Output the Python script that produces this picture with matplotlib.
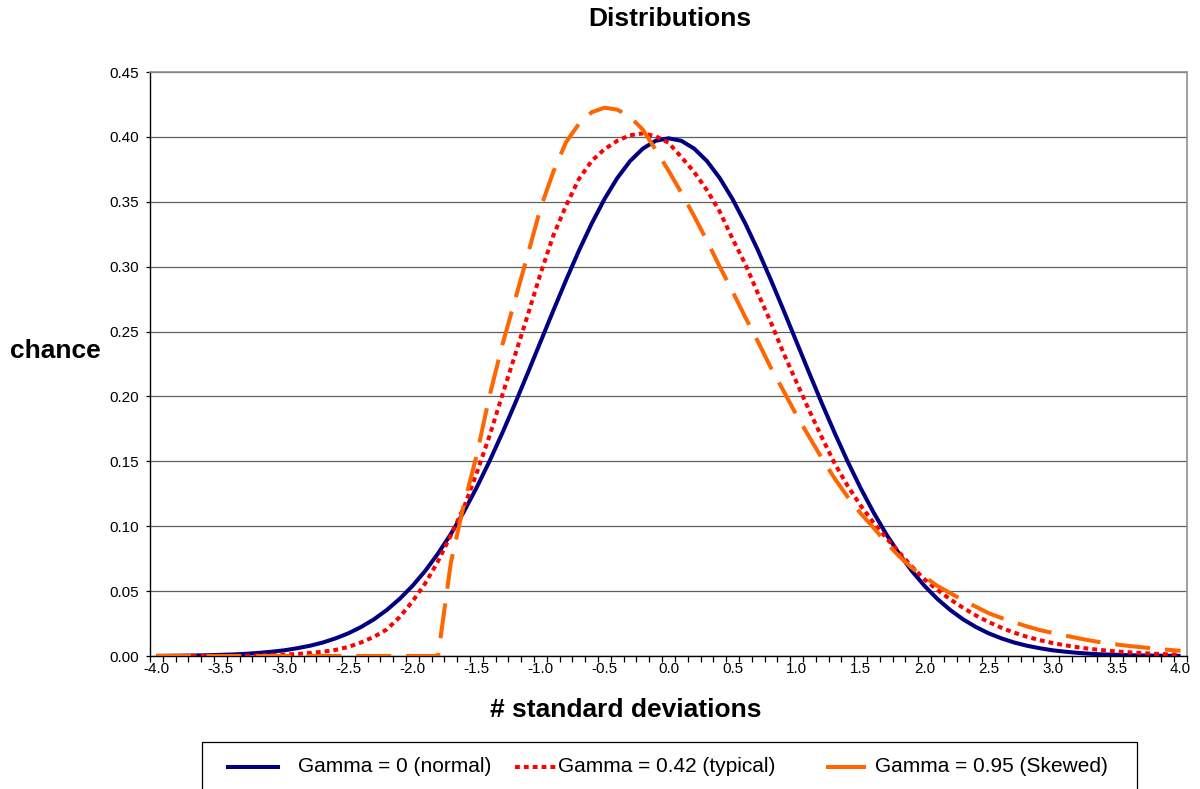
import matplotlib
matplotlib.use("Agg")
import matplotlib.pyplot as plt
from matplotlib.ticker import FixedLocator
from matplotlib.lines import Line2D
from matplotlib.patches import Rectangle

plt.rcParams['font.family'] = ['Liberation Sans', 'DejaVu Sans']

x_values = [round(-4.0 + 0.1 * i, 1) for i in range(81)]

normal = [0.0001, 0.0002, 0.0003, 0.0004, 0.0006, 0.0009, 0.0012, 0.0017, 0.0024, 0.0033,
          0.0044, 0.0060, 0.0079, 0.0104, 0.0136, 0.0175, 0.0224, 0.0283, 0.0355, 0.0440,
          0.0540, 0.0656, 0.0790, 0.0940, 0.1109, 0.1295, 0.1497, 0.1714, 0.1942, 0.2179,
          0.2420, 0.2661, 0.2897, 0.3123, 0.3332, 0.3521, 0.3683, 0.3814, 0.3910, 0.3970,
          0.3989,
          0.3970, 0.3910, 0.3814, 0.3683, 0.3521, 0.3332, 0.3123, 0.2897, 0.2661, 0.2420,
          0.2179, 0.1942, 0.1714, 0.1497, 0.1295, 0.1109, 0.0940, 0.0790, 0.0656, 0.0540,
          0.0440, 0.0355, 0.0283, 0.0224, 0.0175, 0.0136, 0.0104, 0.0079, 0.0060, 0.0044,
          0.0033, 0.0024, 0.0017, 0.0012, 0.0009, 0.0006, 0.0004, 0.0003, 0.0002, 0.0001]

typical = [0.0000, 0.0000, 0.0000, 0.0000, 0.0000, 0.0001, 0.0001, 0.0002, 0.0004, 0.0007,
           0.0011, 0.0016, 0.0023, 0.0033, 0.0047, 0.0070, 0.0105, 0.0148, 0.0205, 0.0300,
           0.0420, 0.0560, 0.0730, 0.0930, 0.1140, 0.1405, 0.1690, 0.2005, 0.2315, 0.2625,
           0.2945, 0.3240, 0.3470, 0.3675, 0.3815, 0.3905, 0.3970, 0.4013, 0.4027, 0.4005,
           0.3955,
           0.3845, 0.3730, 0.3590, 0.3425, 0.3215, 0.3020, 0.2790, 0.2570, 0.2330, 0.2110,
           0.1890, 0.1680, 0.1480, 0.1310, 0.1160, 0.1030, 0.0910, 0.0800, 0.0690, 0.0590,
           0.0510, 0.0437, 0.0372, 0.0313, 0.0262, 0.0218, 0.0180, 0.0148, 0.0122, 0.0100,
           0.0082, 0.0067, 0.0054, 0.0044, 0.0035, 0.0028, 0.0022, 0.0017, 0.0013, 0.0010]

skewed = [0.0, 0.0, 0.0, 0.0, 0.0, 0.0, 0.0, 0.0, 0.0, 0.0,
          0.0, 0.0, 0.0, 0.0, 0.0, 0.0, 0.0, 0.0, 0.0, 0.0,
          0.0, 0.0, 0.0, 0.072, 0.116, 0.154, 0.1995, 0.239, 0.274, 0.309,
          0.345, 0.373, 0.396, 0.410, 0.419, 0.4225, 0.421, 0.4155, 0.4055, 0.390,
          0.374,
          0.357, 0.339, 0.320, 0.300, 0.281, 0.261, 0.242, 0.222, 0.204, 0.1855,
          0.1687, 0.152, 0.1365, 0.1225, 0.110, 0.099, 0.0875, 0.077, 0.068, 0.061,
          0.054, 0.0485, 0.043, 0.038, 0.033, 0.0293, 0.026, 0.0228, 0.020, 0.0178,
          0.0157, 0.0137, 0.0118, 0.0102, 0.0089, 0.0077, 0.0067, 0.0057, 0.0048, 0.0040]

series_labels = ["Gamma = 0 (normal)", "Gamma = 0.42 (typical)", "Gamma = 0.95 (Skewed)"]
series_colors = ['#000080', '#FF0000', '#FF6600']
x_tick_labels = [f"{-4.0 + 0.5 * i:.1f}" for i in range(17)]
y_tick_values = [0.05 * i for i in range(10)]

W, H = 1200, 789
fig = plt.figure(figsize=(W / 100, H / 100), dpi=100)
ax = fig.add_axes([150 / W, 1 - 656 / H, 1037 / W, 584 / H])

LW = 2.9
dot_style = (0, (1.2, 1.0))
dash_style = (0, (8.7, 3.7))
ax.plot(x_values, normal, color=series_colors[0], lw=LW, solid_capstyle='butt', zorder=3)
ax.plot(x_values, typical, color=series_colors[1], lw=LW, linestyle=dot_style,
        dash_capstyle='butt', zorder=4)
ax.plot(x_values, skewed, color=series_colors[2], lw=LW, linestyle=dash_style,
        dash_capstyle='butt', zorder=5)

ax.set_xlim(-4.05, 4.05)
ax.set_ylim(0, 0.45)

ax.yaxis.set_major_locator(FixedLocator(y_tick_values))
ax.set_yticklabels([f"{v:.2f}" for v in y_tick_values])
ax.set_xticks([-4.0 + 0.5 * i for i in range(17)])
ax.set_xticklabels(x_tick_labels)
ax.tick_params(axis='x', which='major', length=0, pad=4, labelsize=11)
ax.xaxis.set_minor_locator(FixedLocator([-4.05 + 0.1 * i for i in range(82)]))
ax.tick_params(axis='x', which='minor', length=4, width=0.9, direction='out', color='black')
ax.tick_params(axis='y', which='major', length=3, width=0.9, direction='out', labelsize=11, pad=5)

ax.grid(axis='y', color='#606060', lw=0.9, zorder=1)
ax.set_axisbelow(True)

for side in ['left', 'bottom']:
    ax.spines[side].set_color('black')
    ax.spines[side].set_linewidth(1.0)
for side in ['right', 'top']:
    ax.spines[side].set_color('#909090')
    ax.spines[side].set_linewidth(1.2)

fig.text(670 / W, 1 - 19 / H, "Distributions", ha='center', va='center', fontsize=19, fontweight='bold')
fig.text(55 / W, 1 - 351 / H, "chance", ha='center', va='center', fontsize=19, fontweight='bold')
fig.text(626 / W, 1 - 710 / H, "# standard deviations", ha='center', va='center', fontsize=19, fontweight='bold')

# legend box (extends past the bottom edge as in the reference)
fig.add_artist(Rectangle((202 / W, -0.02), (1137 - 202) / W, (789 - 742) / H + 0.02,
                         transform=fig.transFigure, facecolor='white', edgecolor='black',
                         lw=0.9, zorder=1))
ly = 1 - 767 / H
handles = [(226, 280, '-'), (515, 557, dot_style), (826, 866, '-')]
text_x = [298, 558, 875]
for (x0, x1, ls), color, lab, tx in zip(handles, series_colors, series_labels, text_x):
    fig.add_artist(Line2D([x0 / W, x1 / W], [ly, ly], transform=fig.transFigure, color=color,
                          lw=LW, linestyle=ls, dash_capstyle='butt', solid_capstyle='butt', zorder=2))
    fig.text(tx / W, ly, lab, ha='left', va='center', fontsize=15, zorder=3)

fig.savefig("out.png", dpi=100)
